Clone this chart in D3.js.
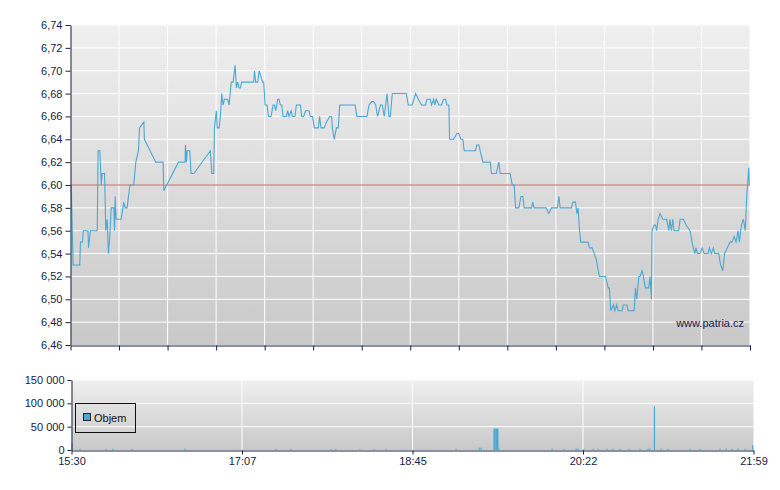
<!DOCTYPE html>
<html><head><meta charset="utf-8">
<script src="https://cdn.jsdelivr.net/npm/d3@7"></script>
<style>body{margin:0;background:#fff}svg{display:block;font-family:"Liberation Sans",Arial,sans-serif}</style>
</head><body><svg id="c" width="780" height="490"></svg>
<script>
// minutes since 15:30
const priceTimes = [0.4,1.5,5.3,5.7,6.9,7.3,10.0,10.3,11.4,15.3,15.8,16.8,17.6,18.1,19.5,20.2,21.0,21.7,22.5,23.3,24.8,25.2,25.6,26.1,29.0,30.5,31.3,32.4,34.0,36.2,37.4,38.9,39.5,42.0,42.3,48.8,53.0,53.4,61.8,65.6,65.8,66.4,66.8,68.3,69.0,70.6,80.1,80.9,82.0,82.4,83.5,84.0,85.1,85.8,86.6,87.3,88.1,90.0,90.8,92.0,93.1,94.2,95.0,95.7,96.5,97.3,98.0,104.9,105.3,106.0,107.2,108.0,109.9,110.6,111.4,112.5,113.3,114.8,116.0,116.7,117.5,118.6,119.4,120.1,120.9,121.7,123.6,124.3,125.1,126.3,127.0,128.5,129.3,131.6,132.3,133.5,134.6,136.5,137.3,138.5,139.6,141.9,142.6,143.4,145.3,146.5,148.4,149.5,149.9,151.0,152.2,153.3,154.1,162.9,164.0,169.7,170.9,172.4,173.5,174.7,175.8,177.4,178.5,179.6,181.2,182.3,
183.1,184.2,192.2,193.4,195.6,197.6,199.1,201.0,203.3,204.0,206.0,206.7,207.9,208.6,209.4,210.9,212.4,213.6,214.7,215.5,216.6,217.0,219.3,221.2,222.3,223.5,224.6,225.4,231.9,232.6,233.8,234.5,236.1,240.3,241.0,243.7,245.2,246.0,251.7,252.9,254.0,254.8,256.7,257.8,259.0,259.7,263.9,264.7,265.4,272.3,273.8,275.4,278.8,279.6,280.3,286.8,287.6,289.1,289.9,290.6,291.4,292.1,292.5,296.3,297.1,298.6,299.8,300.9,302.8,306.3,307.8,308.5,309.3,310.8,311.6,312.7,313.5,315.8,316.5,318.5,319.2,322.7,323.4,324.2,325.3,326.1,327.2,328.0,329.1,331.0,331.8,332.6,332.9,334.1,334.9,335.6,336.4,337.5,339.1,341.3,342.5,343.2,344.0,344.8,345.5,348.2,349.0,350.9,352.4,354.7,355.8,357.4,358.1,358.9,360.4,361.6,362.7,365.0,365.7,366.9,368.0,368.8,371.1,372.2,373.4,374.5,376.0,377.6,378.7,379.9,381.0,382.2,382.9,384.1,385.2,386.3,387.1,388.3,388.6];
const priceValues = [6.60,6.53,6.53,6.55,6.55,6.56,6.56,6.545,6.56,6.56,6.63,6.63,6.60,6.61,6.61,6.56,6.57,6.54,6.555,6.58,6.58,6.56,6.59,6.57,6.57,6.585,6.58,6.58,6.60,6.60,6.62,6.63,6.65,6.655,6.64,6.62,6.62,6.595,6.62,6.62,6.635,6.62,6.63,6.63,6.61,6.61,6.63,6.61,6.61,6.65,6.665,6.65,6.65,6.66,6.68,6.67,6.675,6.675,6.67,6.69,6.69,6.705,6.685,6.69,6.685,6.685,6.69,6.69,6.70,6.69,6.69,6.70,6.69,6.69,6.67,6.67,6.66,6.66,6.67,6.67,6.665,6.675,6.675,6.67,6.67,6.66,6.66,6.665,6.66,6.665,6.66,6.66,6.67,6.67,6.66,6.66,6.665,6.665,6.66,6.66,6.65,6.65,6.66,6.65,6.65,6.655,6.66,6.66,6.65,6.64,6.65,6.65,6.67,6.67,6.66,6.66,6.67,6.673,6.673,6.67,6.66,6.67,6.67,6.66,6.68,6.66,
6.66,6.68,6.68,6.67,6.67,6.68,6.675,6.67,6.67,6.675,6.675,6.67,6.675,6.67,6.675,6.67,6.67,6.675,6.675,6.67,6.67,6.64,6.64,6.645,6.645,6.64,6.64,6.63,6.63,6.635,6.635,6.63,6.62,6.62,6.61,6.61,6.62,6.61,6.61,6.60,6.60,6.58,6.58,6.59,6.59,6.58,6.58,6.585,6.58,6.58,6.575,6.58,6.58,6.59,6.58,6.58,6.585,6.585,6.575,6.58,6.56,6.55,6.55,6.55,6.545,6.545,6.54,6.535,6.52,6.52,6.51,6.51,6.49,6.495,6.49,6.495,6.49,6.49,6.495,6.495,6.49,6.49,6.51,6.50,6.52,6.52,6.525,6.52,6.51,6.51,6.52,6.50,6.56,6.565,6.565,6.56,6.57,6.575,6.57,6.57,6.56,6.57,6.56,6.57,6.56,6.56,6.57,6.57,6.565,6.56,6.55,6.54,6.545,6.54,6.54,6.545,6.54,6.54,6.545,6.54,6.545,6.54,6.54,6.53,6.525,6.54,6.545,6.55,6.55,6.555,6.55,6.56,6.55,6.565,6.57,6.56,6.59,6.615,6.60];
const volumeTimes = [0.3,4.8,19.7,23.7,34.5,64.7,116.6,125.2,148.0,150.8,164.5,172.6,179.4,219.3,232.5,233.6,241.0,242.5,243.9,274.1,281.0,287.8,288.9,292.3,297.5,300.3,305.5,308.9,312.9,318.0,324.3,328.9,330.0,332.5,336.3,340.3,352.8,358.5,369.9,373.4,376.8,380.2,384.2,388.5];
const volumeValues = [14000,2500,2500,3000,2500,3000,2500,2000,2000,2000,2000,2000,2000,2000,5000,5000,46000,46000,3000,3000,2500,3000,3000,2500,2500,2500,2500,2500,2500,2500,2500,3000,3000,94000,3000,2500,2500,2500,3000,3000,3000,3000,2500,10000];
const priceTicks = [6.46,6.48,6.50,6.52,6.54,6.56,6.58,6.60,6.62,6.64,6.66,6.68,6.70,6.72,6.74];
const refPrice = 6.60;
const volTicks = [0,50000,100000,150000];
const timeLabels = ["15:30","17:07","18:45","20:22","21:59"];
const totalMin = 389;

const svg = d3.select("#c");
const navy = "#14224a";
const defs = svg.append("defs");
const g = defs.append("linearGradient").attr("id","bg").attr("x1",0).attr("y1",0).attr("x2",0).attr("y2",1);
g.append("stop").attr("offset","0%").attr("stop-color","#efefef");
g.append("stop").attr("offset","100%").attr("stop-color","#c9c9c9");
const fmt = d => d.toFixed(2).replace(".", ",");
const fmtV = d => d3.format(",")(d).replace(/,/g," ");

// top panel
const x = d3.scaleLinear().domain([0,totalMin]).range([70.5,750]);
const y = d3.scaleLinear().domain([6.46,6.74]).range([345,25]);
svg.append("rect").attr("x",70.5).attr("y",25).attr("width",679.5).attr("height",320).attr("fill","url(#bg)");
const xt = d3.range(0,15).map(i=>i*totalMin/14);
svg.append("g").selectAll("line").data(xt.slice(1)).join("line")
 .attr("x1",d=>x(d)).attr("x2",d=>x(d)).attr("y1",25).attr("y2",345).attr("stroke","#fff").attr("stroke-width",1);
svg.append("g").selectAll("line").data(priceTicks.slice(1)).join("line")
 .attr("x1",70.5).attr("x2",750).attr("y1",d=>y(d)).attr("y2",d=>y(d)).attr("stroke","#fff");
svg.append("line").attr("x1",70.5).attr("x2",750).attr("y1",y(refPrice)).attr("y2",y(refPrice)).attr("stroke","#a83a3a").attr("stroke-width",0.8);
const pts = priceTimes.map((t,i)=>[t,priceValues[i]]);
svg.append("path").datum(pts).attr("fill","none").attr("stroke","#4aa8d4").attr("stroke-width",1.1)
 .attr("d",d3.line().x(d=>x(d[0])).y(d=>y(d[1])));
const ya = svg.append("g").attr("transform","translate(70.5,0)").call(d3.axisLeft(y).tickValues(priceTicks).tickFormat(fmt).tickSize(5).tickSizeOuter(0));
const xa = svg.append("g").attr("transform","translate(0,345.5)").call(d3.axisBottom(x).tickValues(xt).tickFormat("").tickSize(5).tickSizeOuter(0));
svg.append("text").attr("x",744).attr("y",327).attr("text-anchor","end").attr("font-size",11).attr("fill",navy).text("www.patria.cz");

// bottom panel
const x2 = d3.scaleLinear().domain([0,totalMin]).range([71.5,753.5]);
const y2 = d3.scaleLinear().domain([0,150000]).range([450,380]);
svg.append("rect").attr("x",71.5).attr("y",380).attr("width",682).attr("height",70).attr("fill","url(#bg)");
svg.append("g").selectAll("line").data([97.25,194.5,291.75]).join("line")
 .attr("x1",d=>x2(d)).attr("x2",d=>x2(d)).attr("y1",380).attr("y2",450).attr("stroke","#fff");
svg.append("g").selectAll("line").data(volTicks.slice(1)).join("line")
 .attr("x1",71.5).attr("x2",753.5).attr("y1",d=>y2(d)).attr("y2",d=>y2(d)).attr("stroke","#fff");
svg.append("g").selectAll("rect").data(volumeTimes.map((t,i)=>[t,volumeValues[i]])).join("rect")
 .attr("x",d=>x2(d[0])-0.6).attr("width",d=>d[1]>40000&&d[1]<50000?2.4:1.2)
 .attr("y",d=>y2(d[1])).attr("height",d=>450-y2(d[1])).attr("fill","#4aa8d4");
svg.append("g").attr("transform","translate(71.5,0)").call(d3.axisLeft(y2).tickValues(volTicks).tickFormat(fmtV).tickSize(4).tickSizeOuter(0));
svg.append("g").attr("transform","translate(0,450.5)").call(d3.axisBottom(x2).tickValues([0,97.25,194.5,291.75,389]).tickFormat((d,i)=>timeLabels[i]).tickSize(4).tickSizeOuter(0));
svg.selectAll(".tick text").attr("fill",navy).attr("font-size",11).attr("font-family","Liberation Sans, Arial, sans-serif");
svg.selectAll(".domain,.tick line").attr("stroke",navy);
const lg = svg.append("g");
lg.append("rect").attr("x",75.5).attr("y",403.5).attr("width",60).attr("height",29).attr("fill","none").attr("stroke","#111");
lg.append("rect").attr("x",83.5).attr("y",413.5).attr("width",7).attr("height",7).attr("fill","#4aa8d4").attr("stroke","#222");
lg.append("text").attr("x",94).attr("y",422).attr("font-size",11).attr("fill","#111").text("Objem");
</script></body></html>
